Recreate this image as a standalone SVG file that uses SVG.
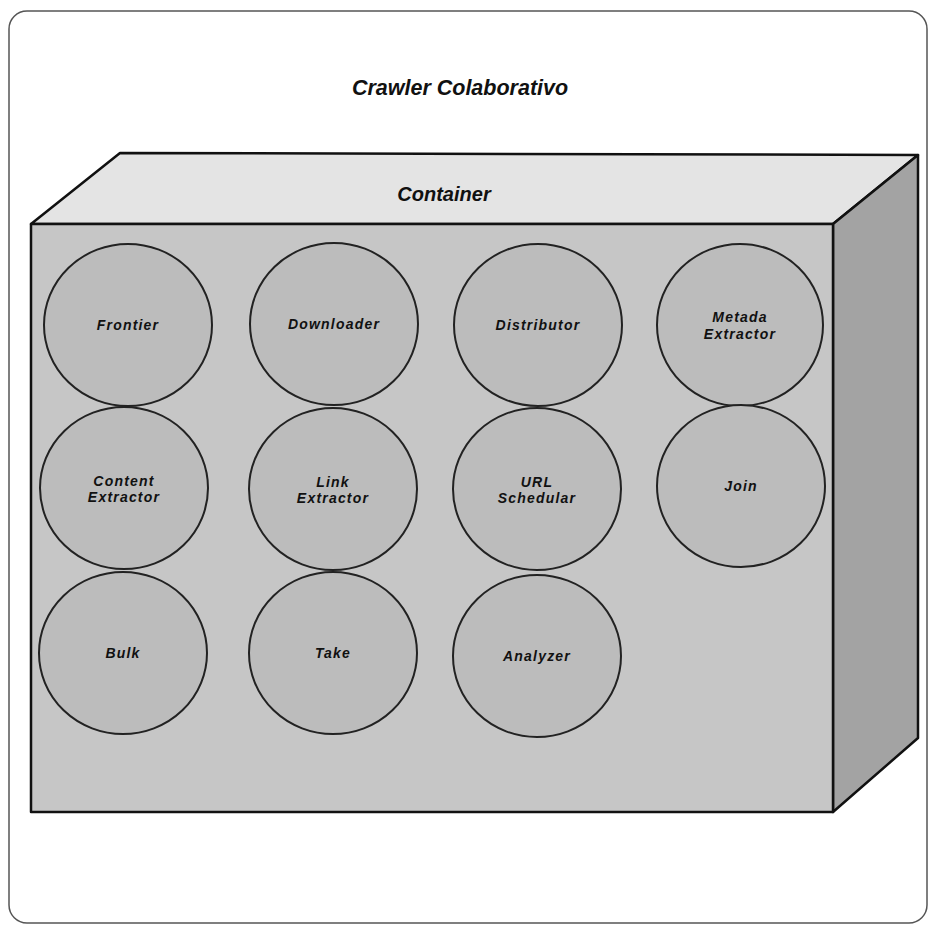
<svg xmlns="http://www.w3.org/2000/svg" width="932" height="927" viewBox="0 0 932 927">
<style>
.lbl{font-family:"Liberation Sans",Arial,sans-serif;font-weight:bold;font-style:italic;font-size:14px;letter-spacing:1.2px;fill:#111;text-anchor:middle}
.node ellipse{fill:#bcbcbc;stroke:#222;stroke-width:2}
.edge{stroke:#111;stroke-width:2.5;stroke-linejoin:round}
.big{font-family:"Liberation Sans",Arial,sans-serif;font-weight:bold;font-style:italic;fill:#111;text-anchor:middle}
</style>
<rect x="0" y="0" width="932" height="927" fill="#ffffff"/>
<rect id="frame" x="9" y="11" width="918" height="912" rx="18" fill="#ffffff" stroke="#555" stroke-width="1.5"/>
<text class="big" x="460" y="95" font-size="21.5">Crawler Colaborativo</text>
<g id="container">
<polygon points="31,224 120,153 918,155 833,224" fill="#e4e4e4" class="edge"/>
<polygon points="833,224 918,155 918,738 833,812" fill="#a3a3a3" class="edge"/>
<rect x="31" y="224" width="802" height="588" fill="#c6c6c6" class="edge"/>
<text class="big" x="444" y="201" font-size="20">Container</text>
</g>
<g id="frontier" class="node"><ellipse cx="128" cy="325" rx="84" ry="81"/><text class="lbl" x="128" y="330">Frontier</text></g>
<g id="downloader" class="node"><ellipse cx="334" cy="324" rx="84" ry="81"/><text class="lbl" x="334" y="329">Downloader</text></g>
<g id="distributor" class="node"><ellipse cx="538" cy="325" rx="84" ry="81"/><text class="lbl" x="538" y="330">Distributor</text></g>
<g id="metada-extractor" class="node"><ellipse cx="740" cy="325" rx="83" ry="81"/><text class="lbl" x="740" y="322">Metada</text><text class="lbl" x="740" y="339">Extractor</text></g>
<g id="content-extractor" class="node"><ellipse cx="124" cy="488" rx="84" ry="81"/><text class="lbl" x="124" y="486">Content</text><text class="lbl" x="124" y="502">Extractor</text></g>
<g id="link-extractor" class="node"><ellipse cx="333" cy="489" rx="84" ry="81"/><text class="lbl" x="333" y="487">Link</text><text class="lbl" x="333" y="503">Extractor</text></g>
<g id="url-schedular" class="node"><ellipse cx="537" cy="489" rx="84" ry="81"/><text class="lbl" x="537" y="487">URL</text><text class="lbl" x="537" y="503">Schedular</text></g>
<g id="join" class="node"><ellipse cx="741" cy="486" rx="84" ry="81"/><text class="lbl" x="741" y="491">Join</text></g>
<g id="bulk" class="node"><ellipse cx="123" cy="653" rx="84" ry="81"/><text class="lbl" x="123" y="658">Bulk</text></g>
<g id="take" class="node"><ellipse cx="333" cy="653" rx="84" ry="81"/><text class="lbl" x="333" y="658">Take</text></g>
<g id="analyzer" class="node"><ellipse cx="537" cy="656" rx="84" ry="81"/><text class="lbl" x="537" y="661">Analyzer</text></g>
<g id="connectors"/>
</svg>
